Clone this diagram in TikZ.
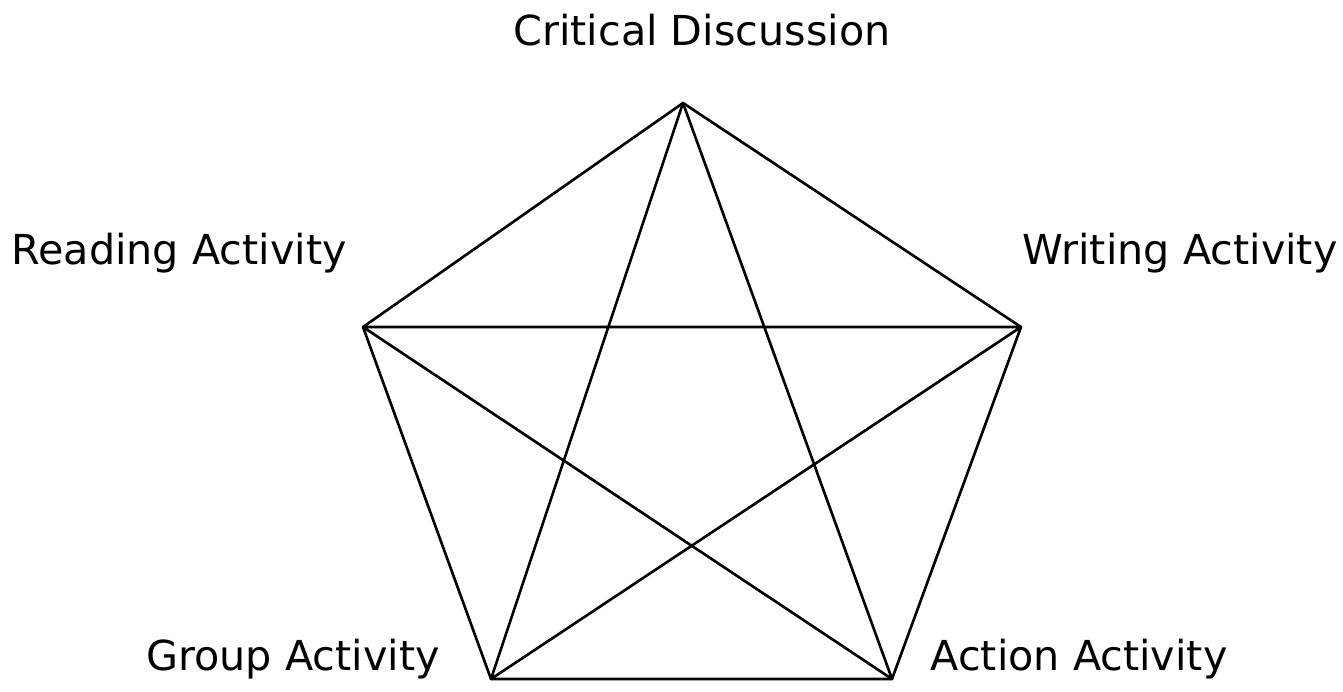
\documentclass[tikz,border=0pt]{standalone}
\usepackage{fontspec}
\setmainfont{DejaVu Sans}
\usepackage{tikz}
\usetikzlibrary{calc, positioning}

\tikzset{
    corner/.style={font=\fontsize{23.5}{28}\selectfont, anchor=base},
    side/.style={line width=1.5pt, line cap=round, line join=round}
}

\begin{document}
\begin{tikzpicture}[x=0.02cm, y=-0.02cm]
                        \useasboundingbox (0, 0) rectangle (1343, 691);

                        \coordinate (crit) at (683, 103);
                        \coordinate (read) at (363, 327);
                        \coordinate (writ) at (1021, 327);
                        \coordinate (grp) at (491, 679);
                        \coordinate (act) at (892, 679);

                        \node[corner] (critlabel) at (702, 45) {Critical Discussion};
                        \node[corner] (readlabel) at (179, 264) {Reading Activity};
                        \node[corner] (writlabel) at (1180, 264) {Writing Activity};
                        \node[corner] (grplabel) at (293, 670) {Group Activity};
                        \node[corner] (actlabel) at (1079, 670) {Action Activity};

                        \draw[side] (crit) -- (writ) -- (act) -- (grp) -- (read) -- cycle;
                        \draw[side]
                        (crit) -- (grp)
                        (crit) -- (act)
                        (read) -- (writ)
                        (read) -- (act)
                        (writ) -- (grp);
                    \end{tikzpicture}
\end{document}
